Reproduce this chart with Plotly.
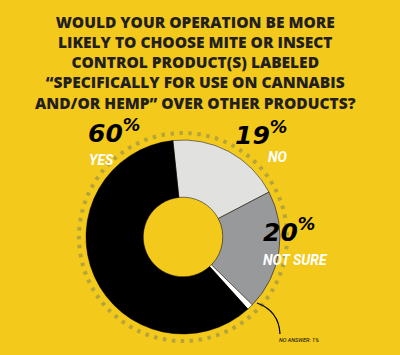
import plotly.graph_objects as go

# Data
labels = ["No", "Not sure", "No answer", "Yes"]
values = [19, 20, 1, 60]
colors = ["#e1e1e0", "#98999b", "#ffffff", "#000000"]

title_text = ("WOULD YOUR OPERATION BE MORE<br>LIKELY TO CHOOSE MITE OR INSECT<br>"
              "CONTROL PRODUCT(S) LABELED<br>\u201cSPECIFICALLY FOR USE ON CANNABIS<br>"
              "AND/OR HEMP\u201d OVER OTHER PRODUCTS?")

W, H = 400, 355
BG = "#f3c91b"
cx, cy, r = 183, 237, 97   # pixel centre / radius of donut

def px(x):
    return x / W

def py(y):
    return 1 - y / H

fig = go.Figure()
fig.add_trace(go.Pie(
    labels=labels, values=values, sort=False, direction="clockwise",
    rotation=-6, hole=0.41,
    marker=dict(colors=colors, line=dict(color="#000000", width=0.5)),
    textinfo="none", hoverinfo="label+percent", showlegend=False,
    domain=dict(x=[px(cx - r), px(cx + r)], y=[py(cy + r), py(cy - r)]),
))

# dotted ring
rd = 104
fig.add_shape(type="circle", xref="paper", yref="paper",
              x0=px(cx - rd), x1=px(cx + rd), y0=py(cy + rd), y1=py(cy - rd),
              line=dict(color="#b5a43c", width=4, dash="3.5px,5.5px"), layer="below")

# leader line for "No answer"
fig.add_shape(type="path", xref="paper", yref="paper",
              path=f"M {px(257)},{py(303)} Q {px(279)},{py(311)} {px(280)},{py(334)}",
              line=dict(color="#000000", width=1.3))

fig.add_annotation(text=title_text, x=0.488, y=py(9), xref="paper", yref="paper",
                   xanchor="center", yanchor="top", showarrow=False, align="center",
                   font=dict(family="'Open Sans', sans-serif", size=15.5,
                             color="#231f20", weight=800))

big = dict(family="'DejaVu Sans', sans-serif", size=25, color="#000000", weight="bold", style="italic")
small = dict(family="Roboto, sans-serif", size=14, color="#ffffff", weight="bold", style="italic")

def pct(txt, x, y):
    fig.add_annotation(text=f"{txt}<sup>%</sup>", x=px(x), y=py(y), xref="paper", yref="paper",
                       xanchor="left", yanchor="middle", showarrow=False, font=big)

def lab(txt, x, y):
    fig.add_annotation(text=txt, x=px(x), y=py(y), xref="paper", yref="paper",
                       xanchor="left", yanchor="middle", showarrow=False, font=small)

pct(f"{values[3]}", 86, 132)
lab(labels[3].upper(), 87, 160)
pct(f"{values[0]}", 233, 134)
lab(labels[0].upper(), 266, 157)
pct(f"{values[1]}", 261, 230)
lab(labels[1].upper(), 261, 260)

fig.add_annotation(text=f"{labels[2].upper()}: {values[2]}%", x=px(277), y=py(340),
                   xref="paper", yref="paper", xanchor="left", yanchor="middle",
                   showarrow=False,
                   font=dict(family="Roboto, sans-serif", size=5.5,
                             color="#000000", style="italic"))

fig.update_layout(width=W, height=H, margin=dict(l=0, r=0, t=0, b=0),
                  paper_bgcolor=BG, plot_bgcolor=BG)

fig.write_html("out.html", config={"displayModeBar": False},
               post_script="document.body.style.margin='0';")
